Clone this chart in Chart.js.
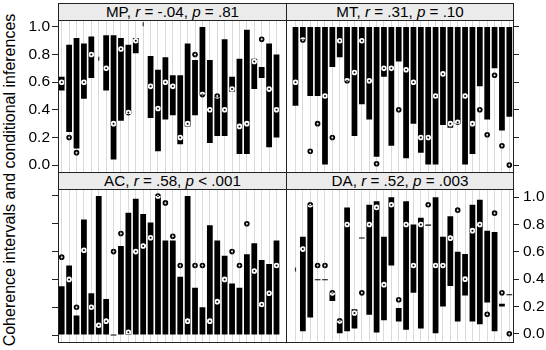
<!DOCTYPE html>
<html>
<head>
<meta charset="utf-8">
<script src="https://cdn.jsdelivr.net/npm/chart.js@4.4.0/dist/chart.umd.min.js"></script>
<style>
  body { margin: 0; background: #fff; width: 546px; height: 350px; overflow: hidden; position: relative;
         font-family: "Liberation Sans", Arial, sans-serif; }
  canvas { position: absolute; }
  .frame { position: absolute; box-sizing: border-box; border: 1px solid #222; pointer-events: none; }
  .strip { background: #ebebeb; text-align: center; font-size: 15.2px; color: #000; white-space: nowrap; }
  #ytitle { position: absolute; left: -190px; top: 170px; width: 400px; height: 20px; line-height: 20px;
            text-align: center; font-size: 16px; transform: rotate(-90deg); white-space: nowrap; }
</style>
</head>
<body>
<div id="ytitle">Coherence intervals and conditional inferences</div>
<script>
// Teilnehmer (Kategorien) und Achsenbeschriftung
const participants = ['1','2','3','4','5','6','7','8','9','10','11','12','13','14','15',
                      '16','17','18','19','20','21','22','23','24','25','26','27','28','29','30'];
const yTicks = [0, 0.2, 0.4, 0.6, 0.8, 1.0];

// MP
const mpLow   = [0.54, 0.24, 0.12, 0.48, 0.63, null, 0.54, 0.04, 0.32, 0.37, 0.81, null, 0.34, 0.10, 0.33,
                 0.36, 0.15, 0.28, 0.36, 0.51, 0.16, 0.21, 0.21, 0.53, 0.08, 0.08, 0.55, 0.63, 0.13, 0.20];
const mpHigh  = [0.64, 0.87, 0.92, 0.88, 0.93, null, 0.94, 0.94, 0.92, 0.87, 0.92, null, 0.79, 0.69, 0.78,
                 0.65, 0.65, 0.88, 0.76, 1.00, 0.76, 0.49, 0.91, 0.64, 0.77, 0.98, 0.77, 0.71, 0.88, 0.80];
const mpPoint = [0.60, 0.20, 0.09, 0.60, 0.80, null, 0.70, 0.30, 0.84, 0.38, 0.90, null, 0.57, 0.41, 0.60,
                 0.57, 0.20, 0.30, 0.80, 0.51, 0.40, 0.50, 0.40, 0.55, 0.28, 0.30, 0.75, 0.91, 0.55, 0.40];
const mpMark  = [null, null, null, null, null, 0.77, null, null, null, null, null, 1.02, null, null, null,
                 null, null, null, null, null, null, null, null, null, null, null, null, null, null, null];

// MT
const mtLow   = [0.43, 0.91, 0.50, 0.50, 0.00, 0.71, 0.78, 0.61, 0.21, 0.44, 0.33, 0.06, 0.64, 0.14, 0.75,
                 0.05, 0.30, 0.09, 0.00, 0.00, 0.29, 0.27, 0.30, 0.00, 0.08, 0.57, 0.33, 0.70, 0.25, 0.35];
const mtHigh  = [1.00, 1.00, 1.00, 1.00, 1.00, 1.00, 1.00, 1.00, 1.00, 1.00, 1.00, 1.00, 1.00, 1.00, 1.00,
                 1.00, 1.00, 1.00, 1.00, 1.00, 1.00, 1.00, 1.00, 1.00, 1.00, 1.00, 1.00, 1.00, 1.00, 1.00];
const mtPoint = [0.60, 0.905, 0.10, 0.30, 0.50, 0.20, 0.90, 0.61, 0.67, 0.90, 0.61, 0.01, 0.70, 0.70, 0.40,
                 0.69, 0.60, 0.20, 0.20, 0.50, 0.66, 0.30, 0.31, 0.50, 0.30, 0.40, 0.22, 0.65, 0.14, 0.00];
const mtMark  = [];

// AC
const acLow   = [0, 0, 0, 0, 0, 0, 0, 0, 0, 0, 0, 0, 0, 0, 0, 0, 0, 0, 0, 0, 0, 0, 0, 0, 0, 0, 0, 0, 0, 0];
const acHigh  = [0.35, 0.50, 0.14, 0.83, 0.30, 1.00, 0.26, 0.00, 0.64, 0.88, 0.98, 0.87, 0.81, 1.00, 0.68,
                 0.68, 0.42, 1.00, 0.34, 0.20, 0.79, 0.68, 0.57, 0.37, 0.34, 0.58, 0.66, 0.54, 0.51, 0.68];
const acPoint = [0.56, 0.40, 0.20, 0.61, 0.20, 0.07, 0.10, 0.60, 0.73, 0.02, 0.60, 0.64, 0.70, 1.00, 0.95,
                 0.71, 0.50, 0.10, 0.50, 0.50, 0.10, 0.24, 0.40, 0.60, 0.50, 0.80, 0.46, 0.22, 0.30, 0.50];
const acMark  = [];

// DA
const daLow   = [null, 0.02, 0.12, 0.40, 0.40, 0.24, 0.00, 0.02, 0.04, 0.705, 0.14, 0.01, 0.10, 0.50, 0.09,
                 0.03, 0.30, 0.04, 0.79, 0.00, 0.20, 0.35, 0.09, 0.28, 0.09, 0.07, 0.23, 0.02, 0.20, 0.29];
const daHigh  = [null, 0.71, 0.94, 0.40, 0.40, 0.30, 0.095, 0.925, 0.18, 0.705, 0.944, 0.97, 0.71, 1.00, 0.19,
                 0.97, 0.80, 0.85, 0.80, 1.00, 0.71, 0.86, 0.60, 0.585, 0.944, 0.98, 0.755, 0.745, 0.22, 0.29];
const daPoint = [null, 0.62, 0.944, 0.50, 0.50, 0.30, 0.095, 0.80, 0.153, 0.30, 0.80, 0.925, 0.36, 0.944, 0.25,
                 0.80, 0.50, 0.80, 0.944, 0.50, 0.50, 0.70, 0.905, 0.40, 0.755, 0.80, 0.143, 0.883, 0.30, 0.00];
const daMark  = [0.47];

// Panel-Überschriften
const panelNames = ['MP', 'MT', 'AC', 'DA'];
const panelR     = ['-.04', '.31', '.58', '.52'];
const panelP     = ['= .81', '= .10', '< .001', '= .003'];

const panels = [
  { low: mpLow, high: mpHigh, point: mpPoint, mark: mpMark, x0: 58,  x1: 286, y0: 20,  y1: 172, ys: 3,   side: 'left',  labels: true },
  { low: mtLow, high: mtHigh, point: mtPoint, mark: mtMark, x0: 286, x1: 513, y0: 20,  y1: 172, ys: 3,   side: 'right', labels: false },
  { low: acLow, high: acHigh, point: acPoint, mark: acMark, x0: 58,  x1: 286, y0: 189, y1: 342, ys: 172, side: 'left',  labels: false },
  { low: daLow, high: daHigh, point: daPoint, mark: daMark, x0: 286, x1: 513, y0: 189, y1: 342, ys: 172, side: 'right', labels: true }
];

// weisser Hintergrund im Plotbereich (noetig fuer die invertierten Kreise)
const panelBg = {
  id: 'panelBg',
  beforeDraw(chart) {
    const a = chart.chartArea, c = chart.ctx;
    c.save();
    c.fillStyle = '#fff';
    c.fillRect(a.left, a.top, a.right - a.left, a.bottom - a.top);
    c.restore();
  }
};

// Kreise invertieren: schwarz auf weiss, weiss auf den Balken
const invertPoints = {
  id: 'invertPoints',
  beforeDatasetDraw(chart, args) {
    if (args.index === 1) { chart.ctx.save(); chart.ctx.globalCompositeOperation = 'difference'; }
  },
  afterDatasetDraw(chart, args) {
    if (args.index === 1) chart.ctx.restore();
  }
};

function makePanel(pn, k) {
  const pad = 12;
  const axisW = pn.side === 'left' ? pn.x0 : 546 - pn.x1;
  const cv = document.createElement('canvas');
  cv.width = (pn.x1 - pn.x0) + axisW;
  cv.height = (pn.y1 - pn.y0) + 2 * pad;
  cv.style.left = (pn.side === 'left' ? 0 : pn.x0) + 'px';
  cv.style.top = (pn.y0 - pad) + 'px';
  document.body.appendChild(cv);

  const bars = pn.low.map((l, i) => (l === null ? null : [l, pn.high[i]]));
  const marks = participants.map((_, i) => (pn.mark[i] === undefined ? null : pn.mark[i]));

  new Chart(cv, {
    type: 'bar',
    data: {
      labels: participants,
      datasets: [
        { label: 'interval', data: bars, backgroundColor: '#000', borderWidth: 0,
          barPercentage: 0.78, categoryPercentage: 1, minBarLength: 1, order: 2 },
        { type: 'line', label: 'inference', data: pn.point, showLine: false,
          pointRadius: 1.9, pointBorderWidth: 1.8, pointBorderColor: '#fff',
          pointBackgroundColor: 'rgba(0,0,0,0)', order: 1 },
        { type: 'line', label: 'mark', data: marks, showLine: false, pointStyle: 'line',
          pointRotation: 90, pointRadius: 2, pointBorderWidth: 1.2, pointBorderColor: '#333', order: 0 }
      ]
    },
    options: {
      responsive: false,
      animation: false,
      events: [],
      layout: { padding: { top: pad, bottom: pad, left: 0, right: 0 } },
      plugins: { legend: { display: false }, tooltip: { enabled: false } },
      scales: {
        x: {
          ticks: { display: false },
          grid: { color: '#dadada', offset: false, drawTicks: false },
          border: { display: false },
          afterFit: s => { s.height = 0; }
        },
        y: {
          position: pn.side,
          min: -0.05,
          max: 1.05,
          afterBuildTicks: s => { s.ticks = yTicks.map(v => ({ value: v })); },
          ticks: {
            display: pn.labels,
            callback: v => v.toFixed(1),
            color: '#000',
            padding: pn.side === 'left' ? 2 : 4,
            font: { family: 'Liberation Sans', size: 15.5 }
          },
          grid: { drawOnChartArea: false, tickLength: 6, tickColor: '#222' },
          border: { display: false },
          afterFit: s => { s.width = axisW; }
        }
      }
    },
    plugins: [panelBg, invertPoints]
  });

  // Rahmen und Streifen
  const frame = document.createElement('div');
  frame.className = 'frame';
  frame.style.left = pn.x0 + 'px';
  frame.style.top = pn.y0 + 'px';
  frame.style.width = (pn.x1 - pn.x0 + 1) + 'px';
  frame.style.height = (pn.y1 - pn.y0 + 1) + 'px';
  document.body.appendChild(frame);

  const strip = document.createElement('div');
  strip.className = 'frame strip';
  strip.style.left = pn.x0 + 'px';
  strip.style.top = pn.ys + 'px';
  strip.style.width = (pn.x1 - pn.x0 + 1) + 'px';
  strip.style.height = (pn.y0 - pn.ys + 1) + 'px';
  strip.style.lineHeight = (pn.y0 - pn.ys - 1) + 'px';
  strip.innerHTML = `${panelNames[k]}, <i>r</i> = ${panelR[k]}, <i>p</i> ${panelP[k]}`;
  document.body.appendChild(strip);
}

panels.forEach(makePanel);
</script>
</body>
</html>
